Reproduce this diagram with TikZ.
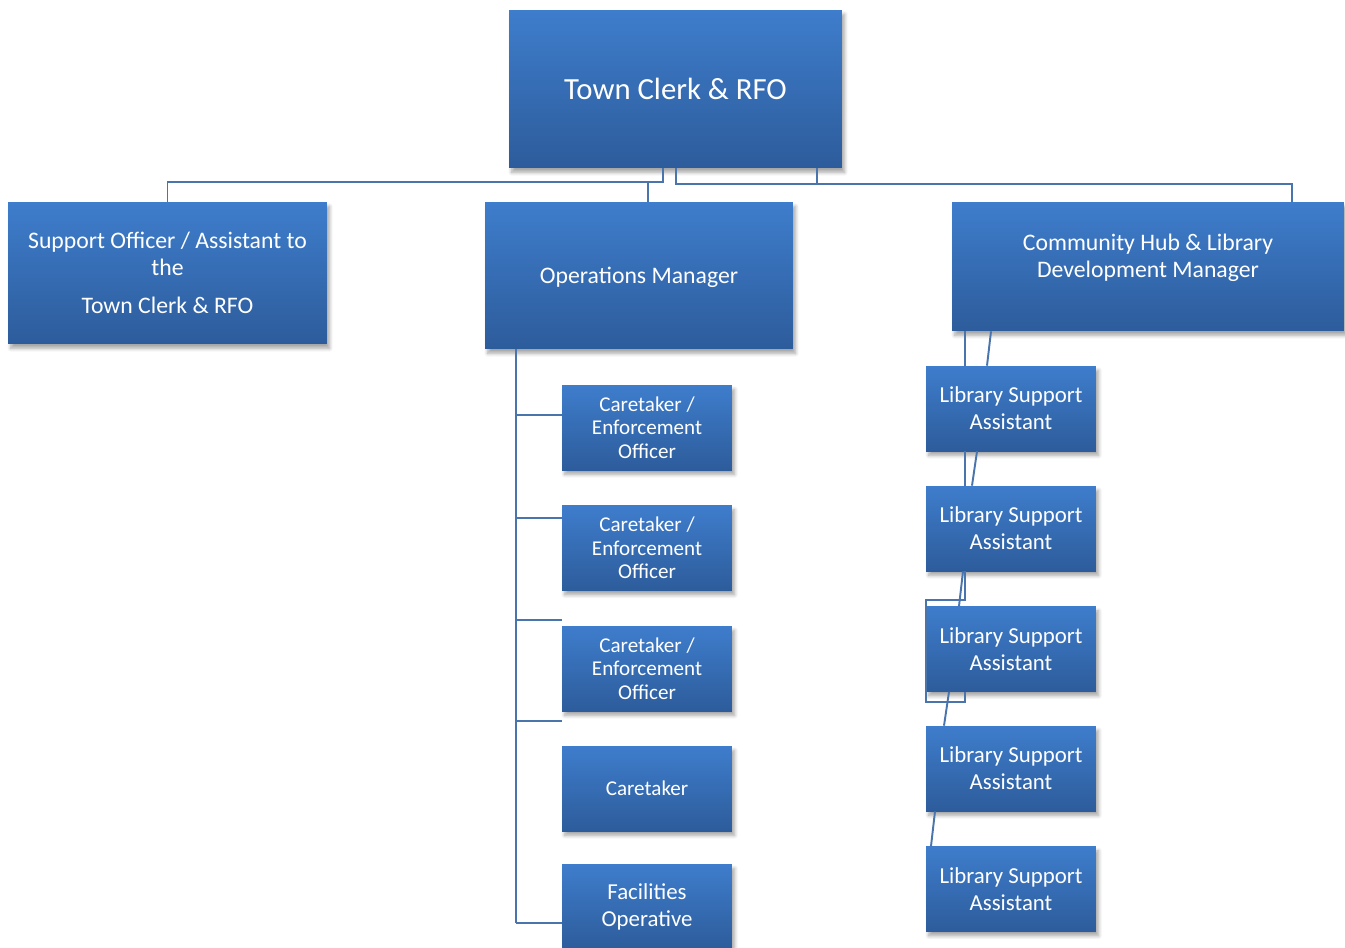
\documentclass[tikz,border=0pt]{standalone}
\usepackage{fontspec}
\setmainfont{Carlito}
\usetikzlibrary{positioning,calc,shadows.blur}
\definecolor{boxtop}{HTML}{3E7DCC}
\definecolor{boxbot}{HTML}{2D5C9B}
\definecolor{linkcol}{HTML}{4A74AC}
\tikzset{
  box/.style={rectangle, top color=boxtop, bottom color=boxbot, draw=none,
    text=white, align=center, inner sep=2pt,
    blur shadow={shadow blur steps=6, shadow xshift=1.5pt, shadow yshift=-2.5pt,
      shadow opacity=35, shadow blur radius=2pt}},
  bigtxt/.style={font=\fontsize{17.5}{21}\selectfont},
  midtxt/.style={font=\fontsize{13.5}{15.5}\selectfont},
  smalltxt/.style={font=\fontsize{12}{13.5}\selectfont},
  lsatxt/.style={font=\fontsize{13}{15.3}\selectfont},
  link/.style={draw=linkcol, line width=1.1pt},
}
\begin{document}
\begin{tikzpicture}[x=0.02cm, y=-0.02cm]
\useasboundingbox (0,0) rectangle (1345,947);
% top level
\node[box, bigtxt, minimum width=6.66cm, minimum height=3.16cm] (clerk) at (675.5,89) {Town Clerk \& RFO};
% second level
\node[box, midtxt, minimum width=6.38cm, minimum height=2.84cm] (support) at (167.5,273)
  {Support Officer / Assistant to\\the\\[6pt]Town Clerk \& RFO};
\node[box, minimum width=6.16cm, minimum height=2.94cm] (ops) at (639,275.5) {};
\node[midtxt, text=white] (opstext) at (639,277) {Operations Manager};
\node[box, minimum width=7.84cm, minimum height=2.58cm] (hub) at (1148,266.5) {};
\node[midtxt, text=white, align=center] (hubtext) at (1148,258) {Community Hub \& Library\\Development Manager};
% operations staff
\foreach \i/\y/\txt/\fs in {1/427.5/{Caretaker /\\Enforcement\\Officer}/smalltxt,
                        2/548/{Caretaker /\\Enforcement\\Officer}/smalltxt,
                        3/668.5/{Caretaker /\\Enforcement\\Officer}/smalltxt,
                        4/788.5/{Caretaker}/smalltxt,
                        5/906.5/{Facilities\\Operative}/lsatxt}
  \node[box, \fs, minimum width=3.4cm, minimum height=1.7cm] (care\i) at (647,\y) {\txt};
% library staff
\foreach \i/\y in {1/408.5,2/528.5,3/649,4/768.5,5/889}
  \node[box, lsatxt, minimum width=3.4cm, minimum height=1.7cm] (lsa\i) at (1011,\y) {Library Support\\Assistant};
% top connectors
\draw[link] (clerk.south -| 663,0) -- (663,182) -| (support.north);
\draw[link] (648,182) -- (ops.north -| 648,0);
\draw[link] (clerk.south -| 676,0) |- (1292,184) -- (hub.north -| 1292,0);
\draw[link] (clerk.south -| 817,0) -- (817,184);
% operations spine
\coordinate (spine) at (516,0);
\draw[link] (ops.south -| spine) -- (spine |- 0,923);
\foreach \i/\y in {1/415,2/518,3/620,4/721,5/923}
  \draw[link] (spine |- 0,\y) -- (care\i.west |- 0,\y);
% library connectors
\draw[link] (hub.south -| 965,0) -- (lsa1.north -| 965,0);
\draw[link] (hub.south -| 991,0) -- (lsa1.north -| 987,0);
\draw[link] (lsa1.south -| 965,0) -- (lsa2.north -| 965,0);
\draw[link] (lsa1.south -| 977,0) -- (lsa2.north -| 972,0);
\draw[link] (lsa2.south -| 963,0) -- (lsa3.north -| 959,0);
\draw[link] (lsa2.south -| 965,0) |- (lsa3.west |- 0,600) |- (965,702) -- (lsa3.south -| 965,0);
\draw[link] (lsa3.south -| 949,0) -- (lsa4.north -| 944,0);
\draw[link] (lsa4.south -| 935,0) -- (lsa5.north -| 931,0);
\end{tikzpicture}
\end{document}
